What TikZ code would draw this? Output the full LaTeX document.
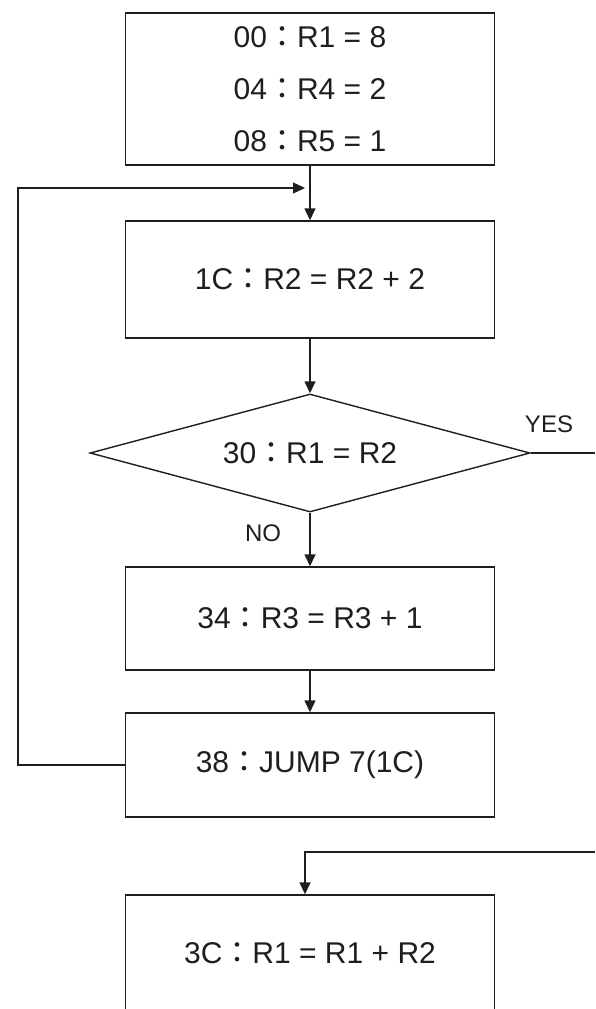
\documentclass[tikz,border=0pt]{standalone}
\usepackage{fontspec}
\setmainfont{Liberation Sans}
\newfontfamily\cjkfont{Noto Sans CJK TC}
\newcommand\fcolon{{\cjkfont ：}}
\usetikzlibrary{shapes.geometric,arrows.meta,calc}
\definecolor{ink}{HTML}{1E1E1E}
\tikzset{
  box/.style={draw=ink, line width=1.4pt, minimum width=369pt, inner sep=0pt,
    text=ink, font=\fontsize{30}{52}\selectfont, align=center},
  dec/.style={draw=ink, diamond, line width=1.4pt, minimum width=440pt,
    minimum height=118pt, inner sep=0pt, aspect=3.7, text=ink,
    font=\fontsize{30}{36}\selectfont},
  arr/.style={draw=ink, line width=1.4pt, -{Triangle[length=12pt,width=11pt]}},
  conn/.style={draw=ink, line width=1.4pt},
  lbl/.style={text=ink, font=\fontsize{24}{28}\selectfont, inner sep=0pt}
}
\begin{document}
\begin{tikzpicture}[x=1pt,y=-1pt]
\useasboundingbox (0,0) rectangle (595,1009);
\node[box, minimum height=152pt] (b1) at (310,89)
  {00\fcolon R1 = 8\\04\fcolon R4 = 2\\08\fcolon R5 = 1};
\node[box, minimum height=117pt] (b2) at (310,279.5) {1C\fcolon R2 = R2 + 2};
\node[dec] (d) at (310,453) {30\fcolon R1 = R2};
\node[box, minimum height=103pt] (b3) at (310,618.5) {34\fcolon R3 = R3 + 1};
\node[box, minimum height=104pt] (b4) at (310,765) {38\fcolon JUMP 7(1C)};
\node[box, minimum height=117pt] (b5) at (310,953.5) {3C\fcolon R1 = R1 + R2};
\node[lbl] (yes) at (549,424) {YES};
\node[lbl] (no) at (263,533) {NO};
\coordinate (loopend) at (305,188);
\coordinate (loopcorner) at (18,188);
\coordinate (yesend) at (595,453);
\coordinate (in5) at (595,852);
\draw[arr] (b1.south) -- (b2.north);
\draw[arr] (b2.south) -- (d.north);
\draw[arr] (d.south) -- (b3.north);
\draw[arr] (b3.south) -- (b4.north);
\draw[arr] (b4.west) -| (loopcorner) -- (loopend);
\draw[conn] (d.east) -- (yesend);
\draw[arr] (in5) -| ([xshift=-5pt]b5.north);
\end{tikzpicture}
\end{document}
